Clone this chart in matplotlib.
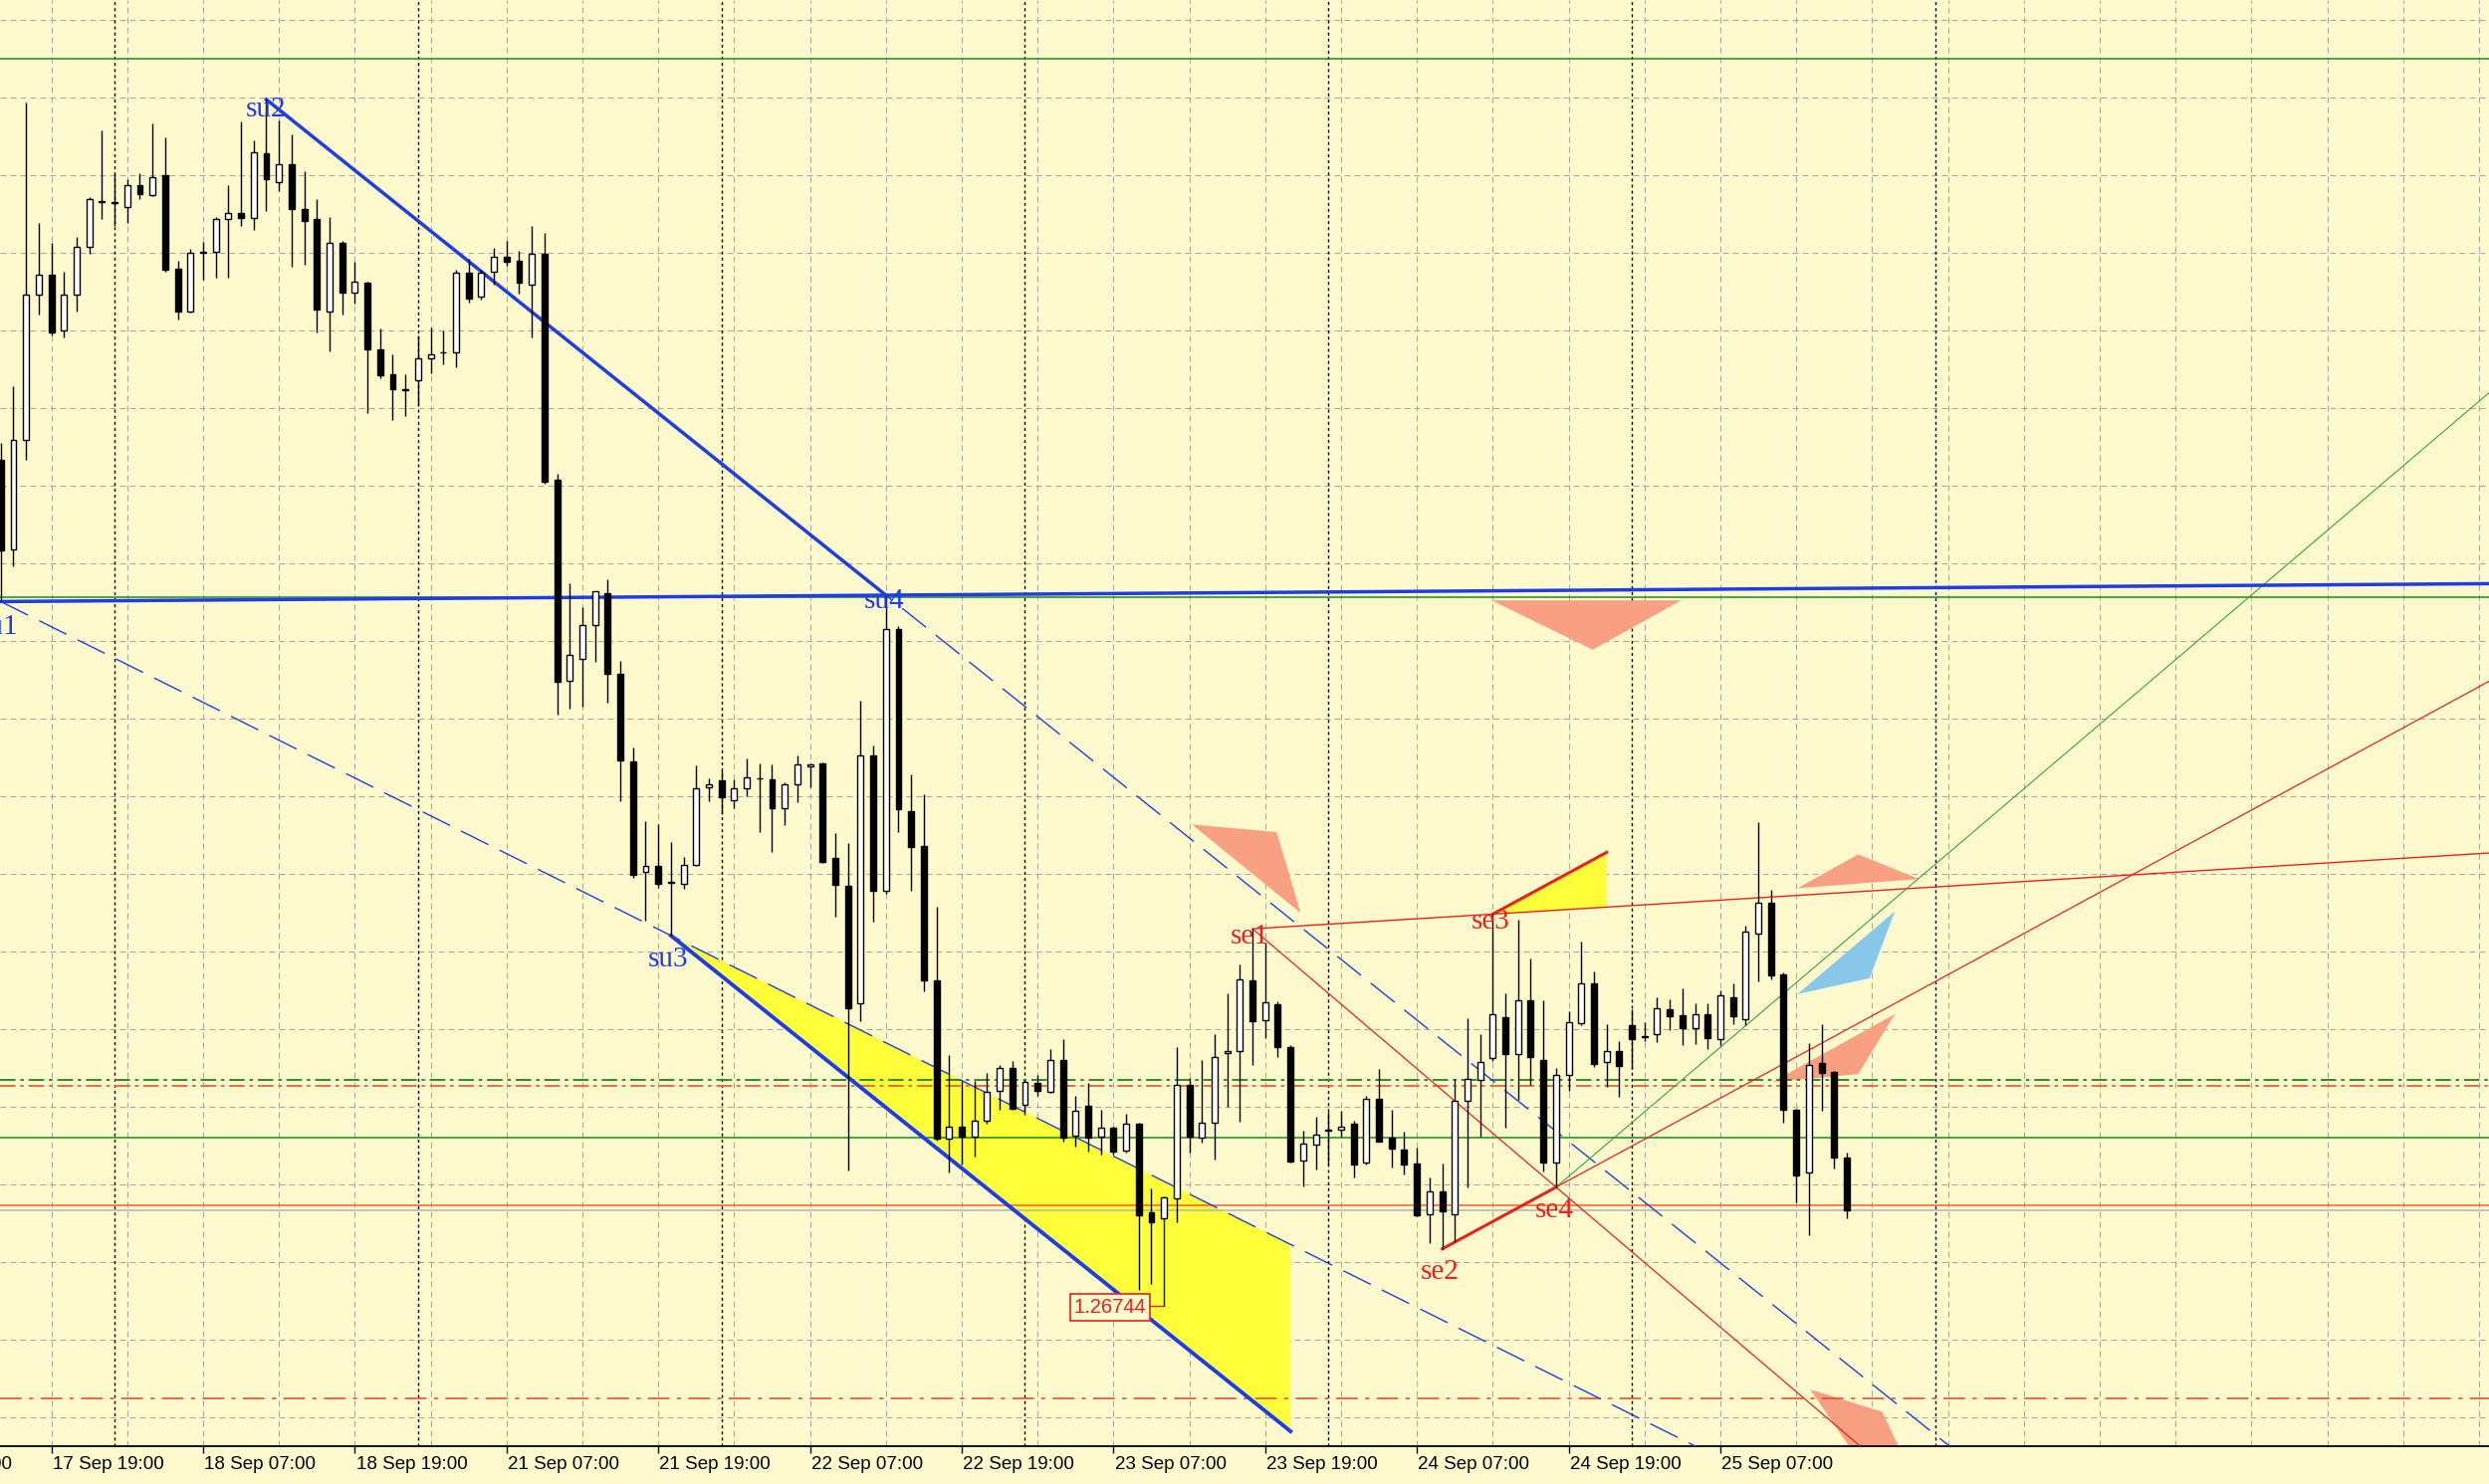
import numpy as np
import matplotlib
matplotlib.use("Agg")
import matplotlib.pyplot as plt

# GBPUSD H1 bars, 17 Sep 15:00 .. 25 Sep 17:00 (weekend bars skipped)
opens = [1.28870, 1.28643, 1.28920, 1.29285, 1.29333, 1.29194, 1.29285, 1.29403, 1.29517, 1.29516,
         1.29503, 1.29558, 1.29534, 1.29584, 1.29350, 1.29242, 1.29389, 1.29392, 1.29473, 1.29489,
         1.29476, 1.29638, 1.29567, 1.29612, 1.29500, 1.29473, 1.29242, 1.29413, 1.29288, 1.29314,
         1.29147, 1.29084, 1.29046, 1.29070, 1.29124, 1.29138, 1.29138, 1.29339, 1.29279, 1.29342,
         1.29380, 1.29370, 1.29309, 1.29387, 1.28818, 1.28314, 1.28369, 1.28455, 1.28535, 1.28331,
         1.28112, 1.27833, 1.27850, 1.27809, 1.27804, 1.27852, 1.28047, 1.28065, 1.28015, 1.28044,
         1.28069, 1.28067, 1.27993, 1.28054, 1.28099, 1.28107, 1.27869, 1.27799, 1.27504, 1.28127,
         1.27786, 1.28445, 1.27986, 1.27900, 1.27562, 1.27163, 1.27195, 1.27170, 1.27208, 1.27284,
         1.27342, 1.27250, 1.27303, 1.27282, 1.27361, 1.27172, 1.27247, 1.27170, 1.27192, 1.27135,
         1.27202, 1.26978, 1.26963, 1.27014, 1.27299, 1.27167, 1.27203, 1.27378, 1.27385, 1.27562,
         1.27462, 1.27501, 1.27395, 1.27109, 1.27149, 1.27185, 1.27187, 1.27201, 1.27103, 1.27263,
         1.27167, 1.27137, 1.27101, 1.26974, 1.27032, 1.26974, 1.27259, 1.27312, 1.27366, 1.27468,
         1.27377, 1.27512, 1.27362, 1.27103, 1.27323, 1.27454, 1.27555, 1.27356, 1.27384, 1.27449,
         1.27420, 1.27426, 1.27490, 1.27474, 1.27441, 1.27476, 1.27414, 1.27518, 1.27465, 1.27678,
         1.27757, 1.27577, 1.27237, 1.27078, 1.27353, 1.27331, 1.27116]
highs = [1.28912, 1.29054, 1.29766, 1.29465, 1.29413, 1.29342, 1.29428, 1.29528, 1.29696, 1.29588,
         1.29573, 1.29588, 1.29713, 1.29679, 1.29369, 1.29400, 1.29417, 1.29478, 1.29560, 1.29718,
         1.29671, 1.29774, 1.29721, 1.29687, 1.29595, 1.29525, 1.29478, 1.29420, 1.29367, 1.29316,
         1.29199, 1.29134, 1.29085, 1.29182, 1.29202, 1.29194, 1.29347, 1.29374, 1.29347, 1.29402,
         1.29419, 1.29394, 1.29457, 1.29440, 1.28834, 1.28560, 1.28500, 1.28539, 1.28570, 1.28365,
         1.28146, 1.27961, 1.27954, 1.27910, 1.27872, 1.28102, 1.28069, 1.28089, 1.28067, 1.28120,
         1.28107, 1.28104, 1.28059, 1.28127, 1.28107, 1.28110, 1.27932, 1.27906, 1.28263, 1.28152,
         1.28529, 1.28452, 1.28079, 1.28028, 1.27747, 1.27374, 1.27310, 1.27310, 1.27329, 1.27348,
         1.27358, 1.27312, 1.27323, 1.27389, 1.27414, 1.27272, 1.27303, 1.27236, 1.27195, 1.27227,
         1.27205, 1.27039, 1.27019, 1.27393, 1.27317, 1.27362, 1.27426, 1.27530, 1.27602, 1.27691,
         1.27657, 1.27509, 1.27398, 1.27184, 1.27220, 1.27232, 1.27235, 1.27209, 1.27272, 1.27339,
         1.27237, 1.27181, 1.27141, 1.27066, 1.27101, 1.27314, 1.27467, 1.27427, 1.27728, 1.27528,
         1.27714, 1.27616, 1.27512, 1.27342, 1.27485, 1.27660, 1.27585, 1.27452, 1.27410, 1.27490,
         1.27457, 1.27518, 1.27513, 1.27542, 1.27505, 1.27505, 1.27537, 1.27553, 1.27699, 1.27958,
         1.27790, 1.27581, 1.27240, 1.27404, 1.27452, 1.27334, 1.27128]
lows = [1.28513, 1.28602, 1.28868, 1.29233, 1.29182, 1.29177, 1.29242, 1.29387, 1.29473, 1.29456,
        1.29465, 1.29523, 1.29532, 1.29342, 1.29221, 1.29239, 1.29322, 1.29327, 1.29327, 1.29456,
        1.29447, 1.29494, 1.29545, 1.29355, 1.29359, 1.29188, 1.29141, 1.29233, 1.29261, 1.28987,
        1.29074, 1.28970, 1.28979, 1.29007, 1.29087, 1.29109, 1.29102, 1.29265, 1.29272, 1.29309,
        1.29357, 1.29287, 1.29177, 1.28809, 1.28229, 1.28245, 1.28248, 1.28362, 1.28260, 1.28012,
        1.27820, 1.27712, 1.27795, 1.27674, 1.27792, 1.27850, 1.28012, 1.27980, 1.27995, 1.28024,
        1.27935, 1.27884, 1.27952, 1.28008, 1.28047, 1.27857, 1.27722, 1.27084, 1.27460, 1.27709,
        1.27780, 1.27935, 1.27786, 1.27533, 1.27160, 1.27078, 1.27099, 1.27119, 1.27202, 1.27237,
        1.27237, 1.27223, 1.27272, 1.27278, 1.27157, 1.27144, 1.27132, 1.27125, 1.27125, 1.27129,
        1.26784, 1.26799, 1.26744, 1.26955, 1.27129, 1.27155, 1.27112, 1.27245, 1.27207, 1.27349,
        1.27416, 1.27368, 1.27104, 1.27045, 1.27087, 1.27099, 1.27170, 1.27067, 1.27099, 1.27156,
        1.27091, 1.27074, 1.26970, 1.26901, 1.26887, 1.26903, 1.27041, 1.27170, 1.27359, 1.27191,
        1.27262, 1.27299, 1.27082, 1.27042, 1.27285, 1.27450, 1.27344, 1.27294, 1.27268, 1.27338,
        1.27408, 1.27406, 1.27437, 1.27399, 1.27402, 1.27388, 1.27399, 1.27452, 1.27448, 1.27560,
        1.27563, 1.27204, 1.27005, 1.26922, 1.27233, 1.27088, 1.26965]
closes = [1.28641, 1.28920, 1.29285, 1.29333, 1.29190, 1.29285, 1.29403, 1.29523, 1.29519, 1.29513,
          1.29558, 1.29536, 1.29579, 1.29347, 1.29242, 1.29389, 1.29392, 1.29473, 1.29489, 1.29476,
          1.29642, 1.29573, 1.29612, 1.29498, 1.29470, 1.29247, 1.29413, 1.29288, 1.29316, 1.29147,
          1.29082, 1.29046, 1.29045, 1.29124, 1.29134, 1.29139, 1.29339, 1.29274, 1.29339, 1.29380,
          1.29367, 1.29313, 1.29387, 1.28813, 1.28312, 1.28378, 1.28455, 1.28539, 1.28331, 1.28114,
          1.27827, 1.27850, 1.27804, 1.27807, 1.27852, 1.28044, 1.28054, 1.28021, 1.28044, 1.28072,
          1.28068, 1.27993, 1.28054, 1.28104, 1.28105, 1.27858, 1.27802, 1.27492, 1.28127, 1.27786,
          1.28443, 1.27992, 1.27897, 1.27562, 1.27163, 1.27195, 1.27170, 1.27210, 1.27282, 1.27342,
          1.27240, 1.27307, 1.27284, 1.27361, 1.27167, 1.27233, 1.27167, 1.27192, 1.27132, 1.27202,
          1.26972, 1.26953, 1.27017, 1.27299, 1.27170, 1.27203, 1.27370, 1.27385, 1.27564, 1.27460,
          1.27506, 1.27393, 1.27107, 1.27152, 1.27174, 1.27184, 1.27195, 1.27099, 1.27263, 1.27157,
          1.27139, 1.27099, 1.26972, 1.27032, 1.26981, 1.27259, 1.27314, 1.27357, 1.27476, 1.27377,
          1.27512, 1.27370, 1.27103, 1.27324, 1.27457, 1.27555, 1.27351, 1.27384, 1.27347, 1.27413,
          1.27419, 1.27492, 1.27472, 1.27441, 1.27476, 1.27417, 1.27525, 1.27472, 1.27683, 1.27757,
          1.27575, 1.27237, 1.27072, 1.27349, 1.27329, 1.27116, 1.26983]

tick_pos = [-8, 4, 16, 28, 40, 52, 64, 76, 88, 100, 112, 124, 136]
tick_labels = ["17 Sep 07:00", "17 Sep 19:00", "18 Sep 07:00", "18 Sep 19:00", "21 Sep 07:00",
               "21 Sep 19:00", "22 Sep 07:00", "22 Sep 19:00", "23 Sep 07:00", "23 Sep 19:00",
               "24 Sep 07:00", "24 Sep 19:00", "25 Sep 07:00"]
day_breaks = [9, 33, 57, 81, 105, 129, 153]

# swing points (bar index) used by the drawn objects
su_idx = {"su1": 0, "su2": 21, "su3": 53, "su4": 70}
se_idx = {"se1": 99, "se2": 114, "se3": 118, "se4": 123}

# horizontal levels: price, colour, style
levels = [(1.29876, "#1e8c1e", "-"), (1.28524, "#1e8c1e", "-"), (1.27167, "#1e8c1e", "-"),
          (1.26997, "#f0602a", "-"), (1.26983, "#b4b4b4", "-"),
          (1.27311, "#2e8b2e", "dd"), (1.27297, "#e8703a", "dd"), (1.26512, "#e8502a", "dd2")]

# filled arrows (bar index, price)
salmon_shapes = [
    [(117.9, 1.28516), (132.9, 1.28516), (125.9, 1.28392)],
    [(94.2, 1.27953), (100.9, 1.27934), (102.8, 1.27731)],
    [(142.1, 1.27793), (146.9, 1.27878), (151.7, 1.27816)],
    [(140.1, 1.27306), (149.8, 1.27477), (146.9, 1.27326)],
    [(143.1, 1.26534), (148.8, 1.26478), (151.0, 1.26330), (147.5, 1.26330)],
]
blue_shapes = [[(142.1, 1.27527), (149.8, 1.27735), (147.8, 1.27567)]]

BG = "#fffacd"
BLUE = "#1f3de6"
RED = "#e8231e"

fig = plt.figure(figsize=(25, 14.91), dpi=100, facecolor=BG)
ax = fig.add_axes([0, 38 / 1491, 1, 1453 / 1491])
ax.set_facecolor(BG)
ax.set_xlim(-0.063, 196.79)
ax.set_ylim(1.263915, 1.30024)

# grid
for gy in 1.29974 - 0.00195 * np.arange(19):
    ax.axhline(gy, color="#aaaaa2", lw=0.8, ls=(0, (5.4, 3.6)), zorder=0)
for gx in np.arange(4, 197, 6):
    ax.axvline(gx, color="#aaaaa2", lw=0.8, ls=(0, (5.4, 3.6)), zorder=0)
for gx in day_breaks:
    ax.axvline(gx, color="black", lw=1.0, ls=(0, (2.2, 2.2)), zorder=1)

o, h, l, c = (np.array(v) for v in (opens, highs, lows, closes))
x = np.arange(len(o))


def ext(p, q, x_end):
    s = (q[1] - p[1]) / (q[0] - p[0])
    return [p[0], x_end], [p[1], p[1] + s * (x_end - p[0])]


u1 = (su_idx["su1"], lows[su_idx["su1"]])
su2 = (su_idx["su2"], highs[su_idx["su2"]])
su3 = (su_idx["su3"], lows[su_idx["su3"]])
su4 = (su_idx["su4"], highs[su_idx["su4"]])
se1 = (se_idx["se1"], highs[se_idx["se1"]])
se2 = (se_idx["se2"], lows[se_idx["se2"]])
se3 = (se_idx["se3"], highs[se_idx["se3"]])
se4 = (se_idx["se4"], lows[se_idx["se4"]])

# shapes
for poly in salmon_shapes:
    px, py = zip(*poly)
    ax.fill(px, py, color="#f9a083", lw=0, zorder=2)
for poly in blue_shapes:
    px, py = zip(*poly)
    ax.fill(px, py, color="#87c8ea", lw=0, zorder=2)

s_chan = (su4[1] - su2[1]) / (su4[0] - su2[0])
s_low = (su3[1] - u1[1]) / (su3[0] - u1[0])
y_end = 102
yel1 = [su3, (y_end, su3[1] + s_low * (y_end - su3[0])), (y_end, su3[1] + s_chan * (y_end - su3[0]))]
ax.fill(*zip(*yel1), color="#ffff3a", lw=0, zorder=2)

s_se = (se4[1] - se2[1]) / (se4[0] - se2[0])
s_top = (se3[1] - se1[1]) / (se3[0] - se1[0])
se3b = (se3[0] + 9, se3[1] + s_se * 9)
yel2 = [se3, se3b, (se3b[0], se1[1] + s_top * (se3b[0] - se1[0]))]
ax.fill(*zip(*yel2), color="#ffff3a", lw=0, zorder=2)

# horizontal levels
for lv, col, st in levels:
    if st == "-":
        ax.axhline(lv, color=col, lw=1.1, zorder=3)
    elif st == "dd":
        ax.axhline(lv, color=col, lw=1.4, ls=(0, (8, 2.5, 1.8, 2.5)), zorder=3)
    else:
        ax.axhline(lv, color=col, lw=1.2, ls=(0, (13, 4.5, 2.4, 4.5)), zorder=3)

# trend lines
ax.plot([su2[0], su4[0]], [su2[1], su4[1]], color=BLUE, lw=2.5, zorder=5)
ax.plot(*ext(su2, su4, 175), color=BLUE, lw=1.0, ls=(0, (22, 9)), zorder=4)
ax.plot(*ext(u1, su4, 197), color=BLUE, lw=2.5, zorder=5)
ax.plot(*ext(u1, su3, 175), color=BLUE, lw=1.0, ls=(0, (22, 9)), zorder=4)
ax.plot([su3[0], y_end], [su3[1], su3[1] + s_chan * (y_end - su3[0])], color=BLUE, lw=2.8, zorder=5)

ax.plot(*ext(se1, se3, 197), color=RED, lw=1.0, zorder=4)
ax.plot(*ext(se1, se4, 175), color=RED, lw=0.9, zorder=4)
ax.plot(*ext(se2, se4, 197), color=RED, lw=0.9, zorder=4)
ax.plot([se2[0], se4[0]], [se2[1], se4[1]], color=RED, lw=2.2, zorder=5)
ax.plot([se3[0], se3b[0]], [se3[1], se3b[1]], color=RED, lw=2.2, zorder=5)
s_se14 = (se4[1] - se1[1]) / (se4[0] - se1[0])
ax.plot([se4[0], 197], [se4[1], se4[1] - s_se14 * (197 - se4[0])], color="#3ca03c", lw=0.8, zorder=4)

# candles
up = c >= o
body_lo = np.minimum(o, c)
body_h = np.maximum(np.abs(c - o), 0.00002)
ax.vlines(x, l, h, color="black", lw=1.0, zorder=10)
ax.bar(x[up], body_h[up], bottom=body_lo[up], width=0.47, color="white",
       edgecolor="black", lw=1.0, zorder=11)
ax.bar(x[~up], body_h[~up], bottom=body_lo[~up], width=0.47, color="black",
       edgecolor="black", lw=1.0, zorder=11)

# point labels
lab_font = dict(family="Liberation Serif", fontsize=21, zorder=12)
ax.text(1.38, 1.28449, "su1", color=BLUE, ha="right", va="center", **lab_font)
ax.text(21.0, 1.29749, "su2", color=BLUE, ha="center", va="center", **lab_font)
ax.text(52.8, 1.27613, "su3", color=BLUE, ha="center", va="center", **lab_font)
ax.text(69.9, 1.28515, "su4", color=BLUE, ha="center", va="center", **lab_font)
ax.text(98.8, 1.27672, "se1", color=RED, ha="center", va="center", **lab_font)
ax.text(113.8, 1.26829, "se2", color=RED, ha="center", va="center", **lab_font)
ax.text(117.8, 1.27709, "se3", color=RED, ha="center", va="center", **lab_font)
ax.text(122.9, 1.26983, "se4", color=RED, ha="center", va="center", **lab_font)

# low price label
low_i = int(np.argmin(l))
ax.plot([90.7, low_i], [l[low_i], l[low_i]], color=RED, lw=1.0, zorder=9)
ax.text(87.7, 1.26740, f"{l[low_i]:.5f}", color=RED, ha="center", va="center",
        family="Liberation Sans", fontsize=14.5, zorder=9,
        bbox=dict(boxstyle="square,pad=0.18", fc=BG, ec=RED, lw=1.2))

# axes
for side in ("top", "left", "right"):
    ax.spines[side].set_visible(False)
ax.spines["bottom"].set_color("black")
ax.spines["bottom"].set_linewidth(1.3)
ax.set_yticks([])
ax.set_xticks(tick_pos[1:])
ax.tick_params(axis="x", length=5, width=1, color="black", labelbottom=False)
tr = ax.get_xaxis_transform()
for tp, tl in zip(tick_pos, tick_labels):
    ax.text(tp + 0.1, -18.5 / 1453, tl, transform=tr, ha="left", va="center",
            family="Liberation Sans", fontsize=13.5, color="black", clip_on=False)

fig.savefig("out.png", dpi=100, facecolor=BG)
